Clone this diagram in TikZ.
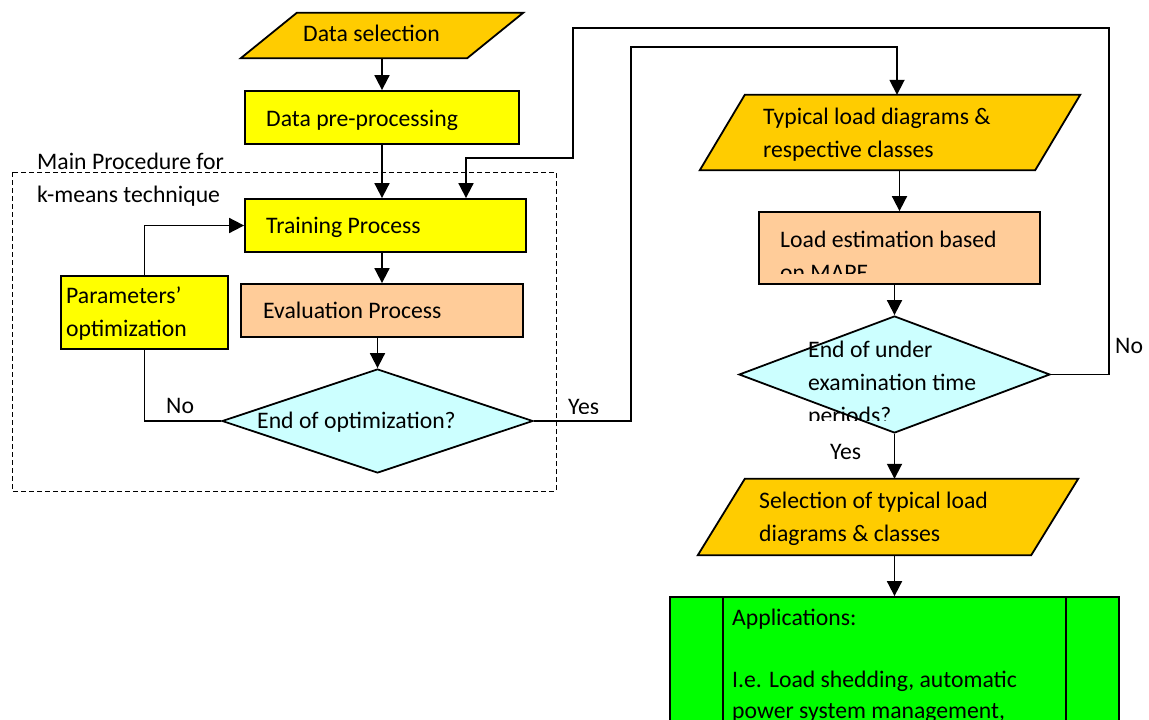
\documentclass[tikz,border=0pt]{standalone}
\usepackage{fontspec}
\setmainfont{Carlito}
\usetikzlibrary{arrows.meta,shapes.geometric,calc}
\definecolor{ioorange}{HTML}{FFCC00}
\definecolor{procyellow}{HTML}{FFFF00}
\definecolor{evalpeach}{HTML}{FFCC99}
\definecolor{testcyan}{HTML}{CCFFFF}
\definecolor{appgreen}{HTML}{00FF00}
\tikzset{
  box/.style={draw,line width=1.8pt,inner sep=0pt},
  hold/.style={inner sep=0pt},
  para/.style={draw,fill=ioorange,line width=1.8pt},
  decision/.style={diamond,draw,fill=testcyan,line width=1.8pt,inner sep=0pt},
  lbl/.style={anchor=base west,inner sep=0pt,align=left},
  line/.style={line width=1.8pt},
  arr/.style={line width=1.8pt,-{Triangle[length=15pt,width=15pt]}},
  group/.style={dash pattern=on 5pt off 3pt,line width=1pt}
}
\begin{document}
\begin{tikzpicture}[x=1pt,y=-1pt,font=\fontsize{23.7}{33}\selectfont]
\useasboundingbox (0,0) rectangle (1149,720);
\clip (0,0) rectangle (1149,720);

% k-means part
\draw[group] (12,172) rectangle (556,491);
\node[lbl] (mainp) at (37,202) {Main Procedure for\\k-means technique};

\node[hold,minimum width=282pt,minimum height=45pt] (dsel) at (382,35.5) {};
\filldraw[para] (dsel.south west) -- ($(dsel.north west)+(56,0)$) -- (dsel.north east) -- ($(dsel.south east)-(56,0)$) -- cycle;
\node[lbl] (dsel-t) at (303,41) {Data selection};

\node[box,fill=procyellow,minimum width=274pt,minimum height=53pt] (prep) at (382,117.5) {};
\node[lbl] (prep-t) at (266,126) {Data pre-processing};

\node[box,fill=procyellow,minimum width=281pt,minimum height=53pt] (train) at (385.5,225.5) {};
\node[lbl] (train-t) at (266,233) {Training Process};

\node[box,fill=evalpeach,minimum width=282pt,minimum height=53pt] (eval) at (382,310.5) {};
\node[lbl] (eval-t) at (263,318) {Evaluation Process};

\node[decision,minimum width=311pt,minimum height=104pt] (endopt) at (377.5,421) {};
\node[lbl] (endopt-t) at (257,428) {End of optimization?};

\node[box,fill=procyellow,minimum width=167pt,minimum height=73pt] (param) at (144.5,312.5) {};
\node[lbl] (param-t) at (66,336) {Parameters’\\optimization};

% results part
\node[hold,minimum width=380pt,minimum height=75pt] (typ) at (890,132.5) {};
\filldraw[para] (typ.south west) -- ($(typ.north west)+(45,0)$) -- (typ.north east) -- ($(typ.south east)-(45,0)$) -- cycle;
\node[lbl] (typ-t) at (763,157) {Typical load diagrams \&\\respective classes};

\node[box,fill=evalpeach,minimum width=281pt,minimum height=72pt] (est) at (899.5,248) {};
\node[lbl] (est-t) at (780,247) {Load estimation based};
\begin{scope}
\clip (est.north west) rectangle ($(est.south east)+(0,-11)$);
\node[lbl] (est-t2) at (780,280) {on MAPE};
\end{scope}

\node[decision,minimum width=311pt,minimum height=117pt] (endper) at (894.5,374.5) {};
\node[lbl] (endper-t) at (808,390) {End of under\\examination time};
\begin{scope}
\clip (739,316) rectangle (1050,420);
\node[lbl] (endper-t2) at (808,423) {periods?};
\end{scope}

\node[hold,minimum width=380pt,minimum height=76pt] (selt) at (888,517) {};
\filldraw[para] (selt.south west) -- ($(selt.north west)+(47,0)$) -- (selt.north east) -- ($(selt.south east)-(47,0)$) -- cycle;
\node[lbl] (selt-t) at (759,541) {Selection of typical load\\diagrams \& classes};

\node[box,fill=appgreen,minimum width=449pt,minimum height=183pt] (app) at (894.5,688.5) {};
\draw[line] ([xshift=54pt]app.north west) -- ([xshift=54pt]app.south west);
\draw[line] ([xshift=-54pt]app.north east) -- ([xshift=-54pt]app.south east);
\node[lbl,font=\fontsize{23.7}{31}\selectfont] (app-t) at (732,718) {Applications:\\[31pt]I.e. Load shedding, automatic\\power system management,};

% connectors
\coordinate (yesA) at (631,47);
\coordinate (noA) at (1109,28);
\coordinate (noB) at (573,158);
\draw[arr] (dsel.south) -- (prep.north);
\draw[arr] (prep.south) -- (prep.south |- train.north);
\draw[arr] (eval.north |- train.south) -- (eval.north);
\draw[arr] (endopt.north |- eval.south) -- (endopt.north);
\draw[line] (endopt.west) -- (param.south |- endopt.west) -- (param.south);
\draw[arr] (param.north) |- (train.west);
\node[lbl] (no1) at (166,413) {No};
\draw[arr] (endopt.east) -| (yesA) -| ([xshift=7pt]typ.north);
\begin{scope}
\clip (556,380) rectangle (630,413);
\node[lbl] (yes1) at (568,414) {Yes};
\end{scope}
\draw[arr] (est.north |- typ.south) -- (est.north);
\draw[arr] (endper.north |- est.south) -- (endper.north);
\draw[arr] (endper.east) -| (noA) -| (noB) -| ($(train.north)+(80.5,0)$);
\node[lbl] (no2) at (1115,353) {No};
\draw[arr] (endper.south) -- (endper.south |- selt.north);
\node[lbl] (yes2) at (830,459) {Yes};
\draw[arr] (app.north |- selt.south) -- (app.north);
\end{tikzpicture}
\end{document}
